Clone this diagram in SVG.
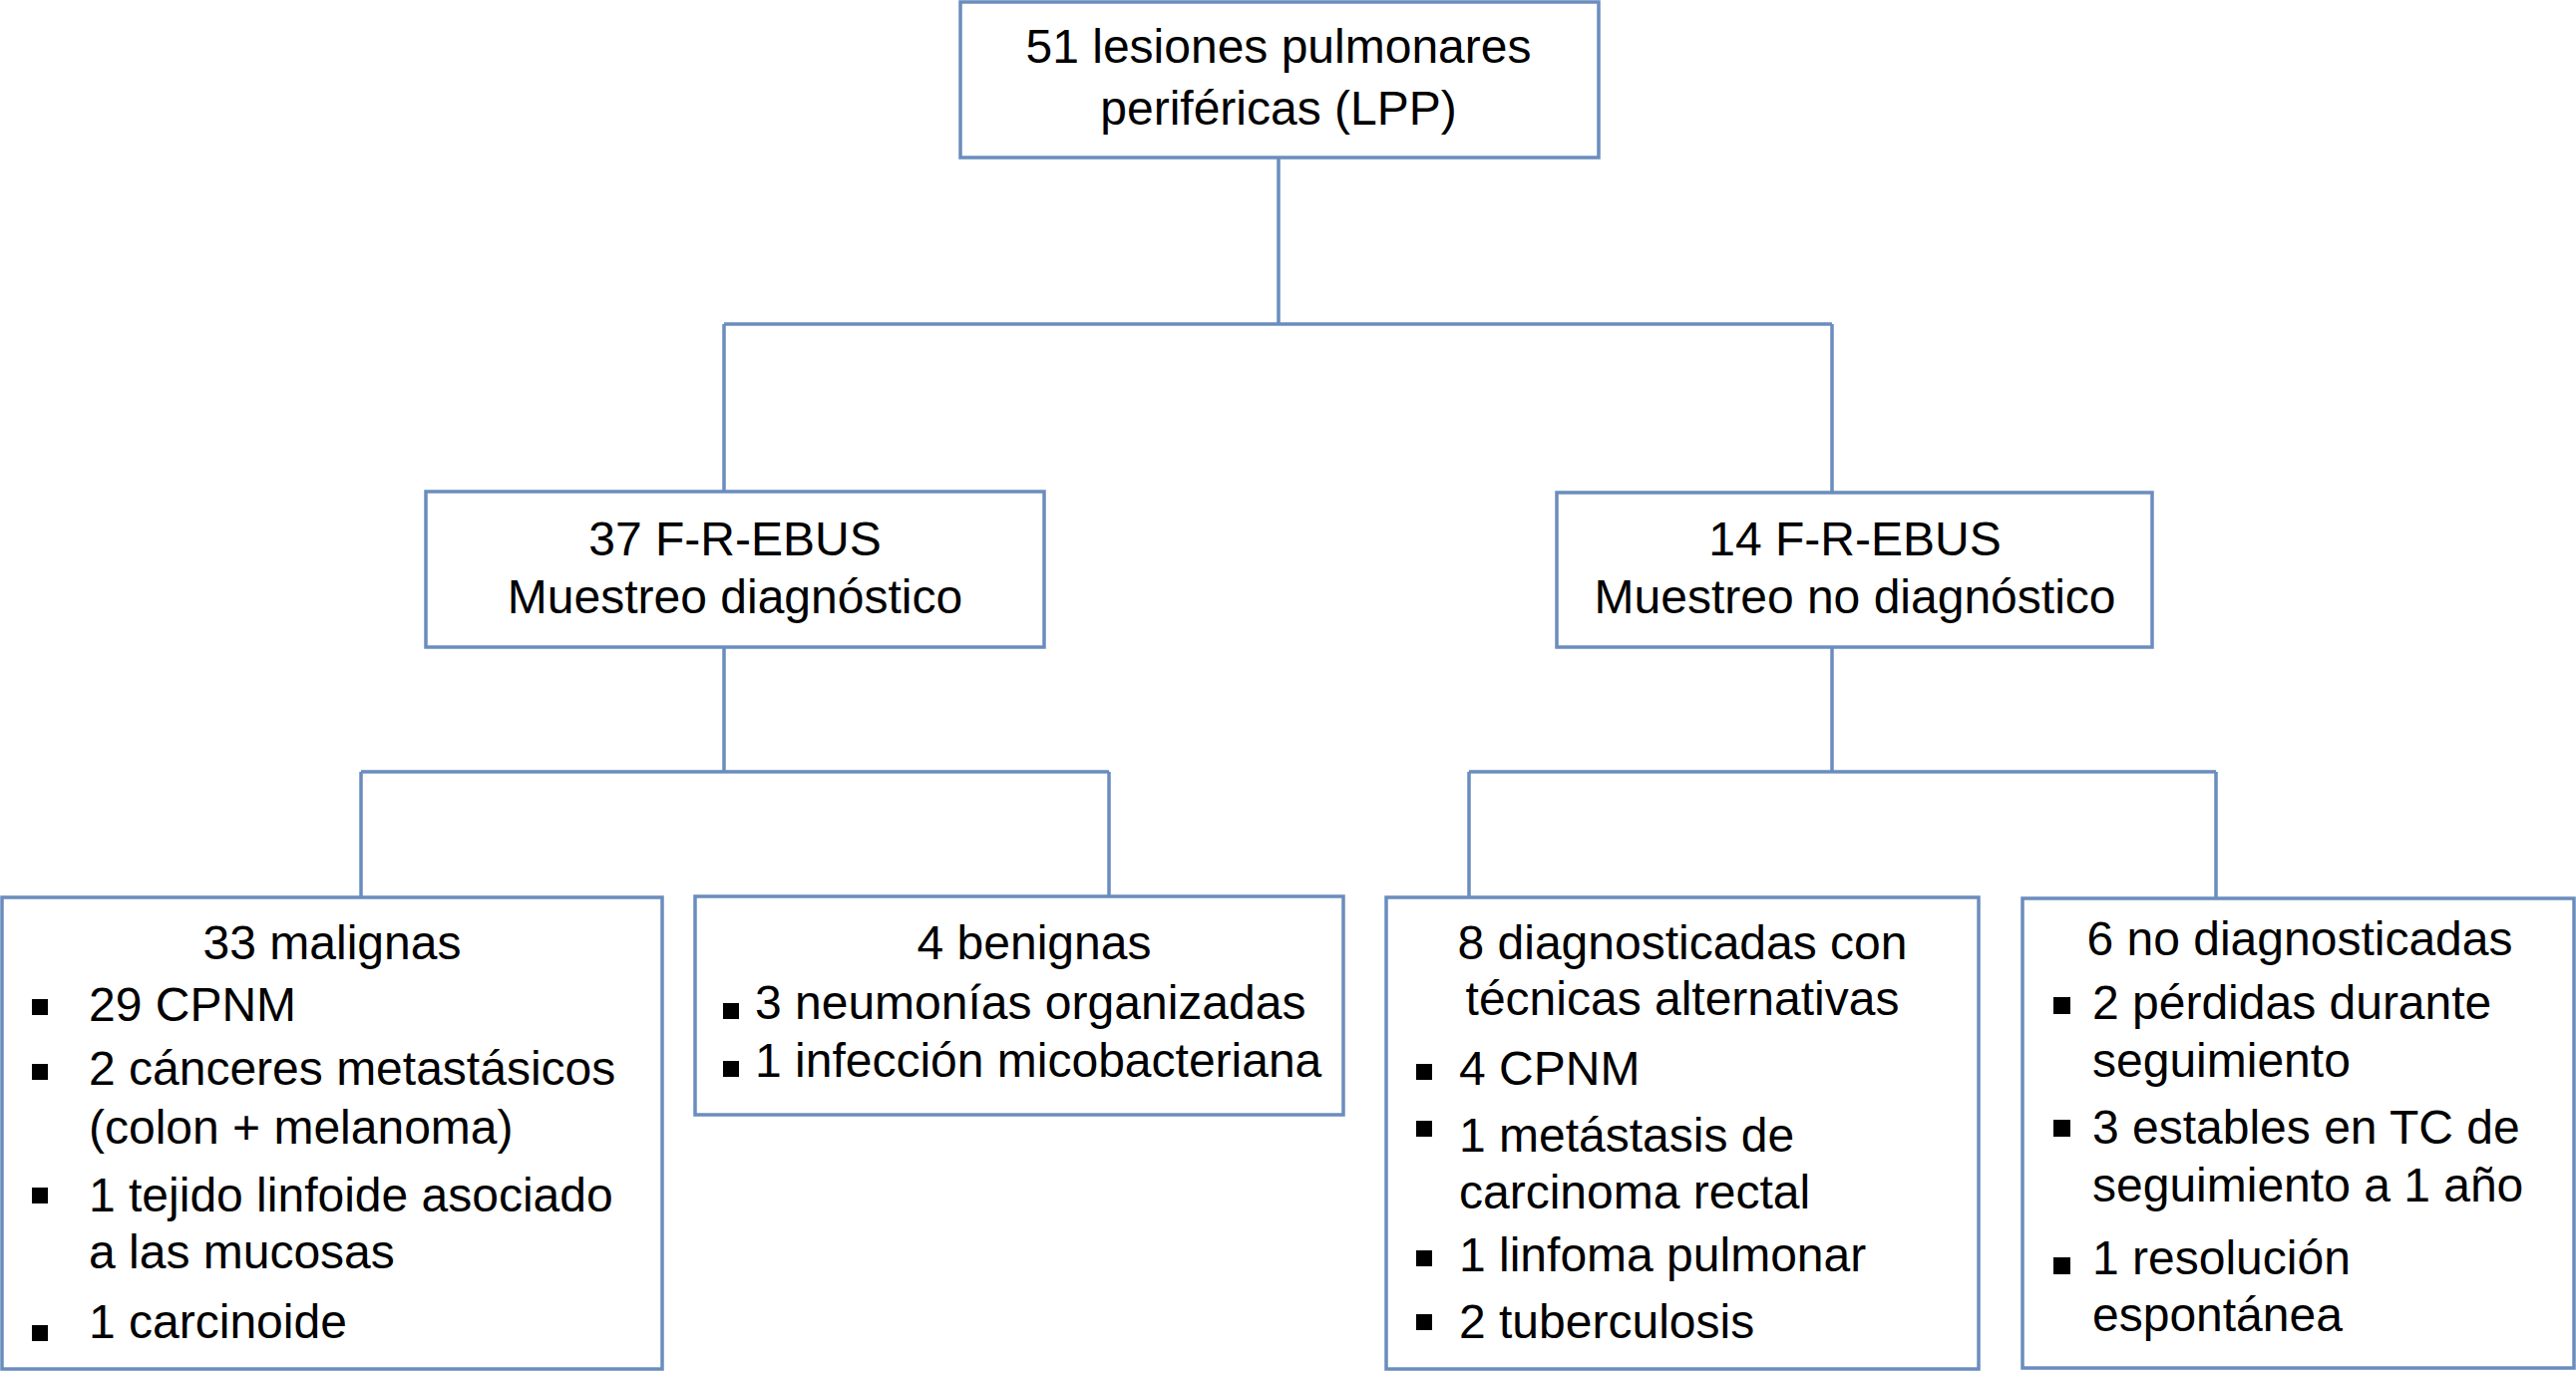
<svg xmlns="http://www.w3.org/2000/svg" width="2583" height="1378" viewBox="0 0 2583 1378">
<style>
.box{fill:#fff;stroke:#6a8dbe;stroke-width:3.5}
.con{fill:none;stroke:#6a8dbe;stroke-width:3.5}
text{font-family:"Liberation Sans",Arial,Helvetica,sans-serif;font-size:48px;fill:#000}
.c{text-anchor:middle}
.b{fill:#000}
</style>
<rect x="0" y="0" width="2583" height="1378" fill="#fff"/>
<g id="connectors">
<path class="con" d="M1282 158V325M726 325H1837M726 325V493M1837 325V494"/>
<path class="con" d="M726 649V774M362 774H1112M362 774V900M1112 774V899"/>
<path class="con" d="M1837 649V774M1473 774H2222M1473 774V900M2222 774V901"/>
</g>
<g id="n_top">
<rect class="box" x="963" y="2" width="640" height="156"/>
<text class="c" x="1282" y="63">51 lesiones pulmonares</text>
<text class="c" x="1282" y="125">periféricas (LPP)</text>
</g>
<g id="n_37">
<rect class="box" x="427" y="493" width="620" height="156"/>
<text class="c" x="737" y="557">37 F-R-EBUS</text>
<text class="c" x="737" y="615">Muestreo diagnóstico</text>
</g>
<g id="n_14">
<rect class="box" x="1561" y="494" width="597" height="155"/>
<text class="c" x="1860" y="557">14 F-R-EBUS</text>
<text class="c" x="1860" y="615">Muestreo no diagnóstico</text>
</g>
<g id="n_33">
<rect class="box" x="2" y="900" width="662" height="473"/>
<text class="c" x="333" y="962">33 malignas</text>
<rect class="b" x="32" y="1002" width="16" height="16"/>
<text x="89" y="1024">29 CPNM</text>
<rect class="b" x="32" y="1067" width="16" height="16"/>
<text x="89" y="1088">2 cánceres metastásicos</text>
<text x="89" y="1147">(colon + melanoma)</text>
<rect class="b" x="32" y="1191" width="16" height="16"/>
<text x="89" y="1215">1 tejido linfoide asociado</text>
<text x="89" y="1272">a las mucosas</text>
<rect class="b" x="32" y="1329" width="16" height="16"/>
<text x="89" y="1342">1 carcinoide</text>
</g>
<g id="n_4">
<rect class="box" x="697" y="899" width="650" height="219"/>
<text class="c" x="1037" y="962">4 benignas</text>
<rect class="b" x="725" y="1006" width="16" height="16"/>
<text x="757" y="1022">3 neumonías organizadas</text>
<rect class="b" x="725" y="1064" width="16" height="16"/>
<text x="757" y="1080">1 infección micobacteriana</text>
</g>
<g id="n_8">
<rect class="box" x="1390" y="900" width="594" height="473"/>
<text class="c" x="1687" y="962">8 diagnosticadas con</text>
<text class="c" x="1687" y="1018">técnicas alternativas</text>
<rect class="b" x="1420" y="1067" width="16" height="16"/>
<text x="1463" y="1088">4 CPNM</text>
<rect class="b" x="1420" y="1124" width="16" height="16"/>
<text x="1463" y="1155">1 metástasis de</text>
<text x="1463" y="1212">carcinoma rectal</text>
<rect class="b" x="1420" y="1254" width="16" height="16"/>
<text x="1463" y="1275">1 linfoma pulmonar</text>
<rect class="b" x="1420" y="1318" width="16" height="16"/>
<text x="1463" y="1342">2 tuberculosis</text>
</g>
<g id="n_6">
<rect class="box" x="2028" y="901" width="553" height="471"/>
<text class="c" x="2306" y="958">6 no diagnosticadas</text>
<rect class="b" x="2059" y="1000" width="17" height="17"/>
<text x="2098" y="1022">2 pérdidas durante</text>
<text x="2098" y="1080">seguimiento</text>
<rect class="b" x="2059" y="1123" width="17" height="17"/>
<text x="2098" y="1147">3 estables en TC de</text>
<text x="2098" y="1205">seguimiento a 1 año</text>
<rect class="b" x="2059" y="1261" width="17" height="17"/>
<text x="2098" y="1278">1 resolución</text>
<text x="2098" y="1335">espontánea</text>
</g>
</svg>
